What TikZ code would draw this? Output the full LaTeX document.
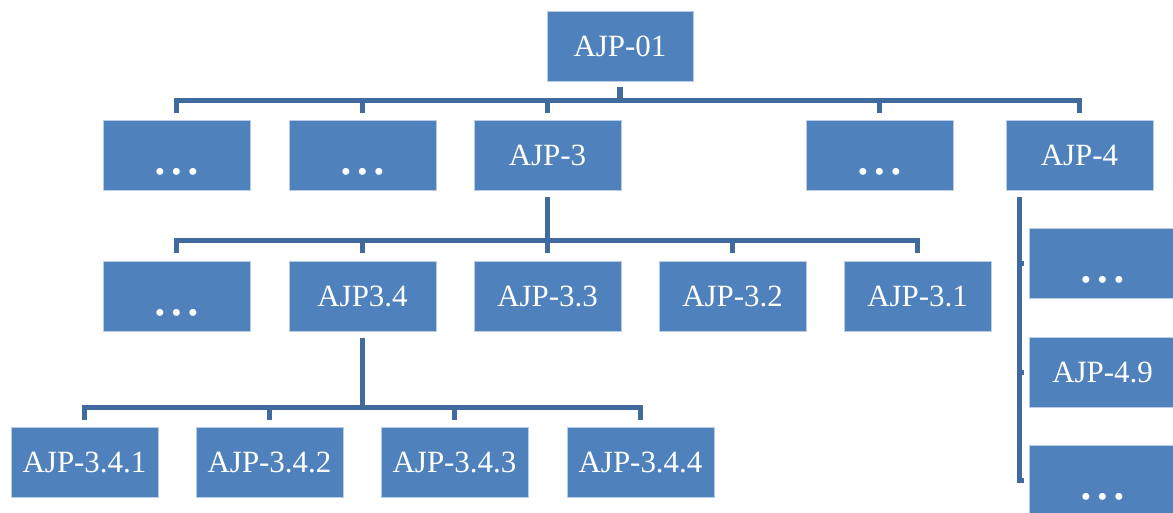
\documentclass[tikz,border=0pt]{standalone}
\usepackage{fontspec}
\setmainfont{Liberation Serif}
\usetikzlibrary{calc}
\definecolor{boxblue}{RGB}{79,129,189}
\definecolor{boxedge}{RGB}{185,205,229}
\definecolor{linkblue}{RGB}{65,106,158}
\tikzset{
  orgbox/.style={fill=boxblue, draw=boxedge, line width=0.4pt, minimum width=2.94cm, minimum height=1.4cm, inner sep=0pt, text=white, font=\fontsize{17.6}{20}\selectfont},
  conn/.style={draw=linkblue, line width=2.9pt},
}
\newcommand{\mydots}{\raisebox{-15pt}[0pt][0pt]{\fontsize{16.5}{16.5}\selectfont •\hspace{3.6pt}•\hspace{3.6pt}•}}
\begin{document}
\begin{tikzpicture}[x=0.02cm, y=-0.02cm]
\clip (0,0) rectangle (1173,512);
\fill[white] (0,0) rectangle (1173,512);
% top
\node[orgbox, minimum width=2.92cm] (top) at (620,46) {AJP-01};
% row 1
\node[orgbox] (a1) at (176.5,155) {\mydots};
\node[orgbox] (a2) at (362.5,155) {\mydots};
\node[orgbox] (a3) at (547.5,155) {AJP-3};
\node[orgbox] (a5) at (879.5,155) {\mydots};
\node[orgbox] (a4) at (1079.5,155) {AJP-4};
% row 2
\node[orgbox] (b1) at (176.5,296) {\mydots};
\node[orgbox] (b2) at (362.5,296) {AJP3.4};
\node[orgbox] (b3) at (547.5,296) {AJP-3.3};
\node[orgbox] (b4) at (732.5,296) {AJP-3.2};
\node[orgbox] (b5) at (917.5,296) {AJP-3.1};
% row 3
\node[orgbox] (c1) at (84.5,462) {AJP-3.4.1};
\node[orgbox] (c2) at (269.5,462) {AJP-3.4.2};
\node[orgbox] (c3) at (454.5,462) {AJP-3.4.3};
\node[orgbox] (c4) at (640.5,462) {AJP-3.4.4};
% right column
\node[orgbox] (r1) at (1102.5,263.5) {\mydots};
\node[orgbox] (r2) at (1102.5,372.5) {AJP-4.9};
\node[orgbox] (r3) at (1102.5,480.5) {\mydots};

% connectors level 1
\draw[conn] ($(top.south)+(0,6)$) -- ($(top.south)+(0,19)$);
\foreach \c in {a1,a2,a3,a5,a4}
  \draw[conn] ($(\c.north)+(0,-7)$) |- ($(top.south)+(0,19)$);
% level 2
\draw[conn] ($(a3.south)+(0,7)$) -- ($(a3.south)+(0,50)$);
\foreach \c in {b1,b2,b3,b4,b5}
  \draw[conn] ($(\c.north)+(0,-8)$) |- ($(a3.south)+(0,50)$);
% level 3
\draw[conn] ($(b2.south)+(0,7)$) -- ($(b2.south)+(0,76)$);
\foreach \c in {c1,c2,c3,c4}
  \draw[conn] ($(\c.north)+(0,-7)$) |- ($(b2.south)+(0,76)$);
% right column
\coordinate (vtop) at ($(a4.south)+(-60,7)$);
\foreach \c in {r1,r2,r3}
  \draw[conn] (vtop) |- ($(\c.west)+(-5,0)$);
\end{tikzpicture}
\end{document}
